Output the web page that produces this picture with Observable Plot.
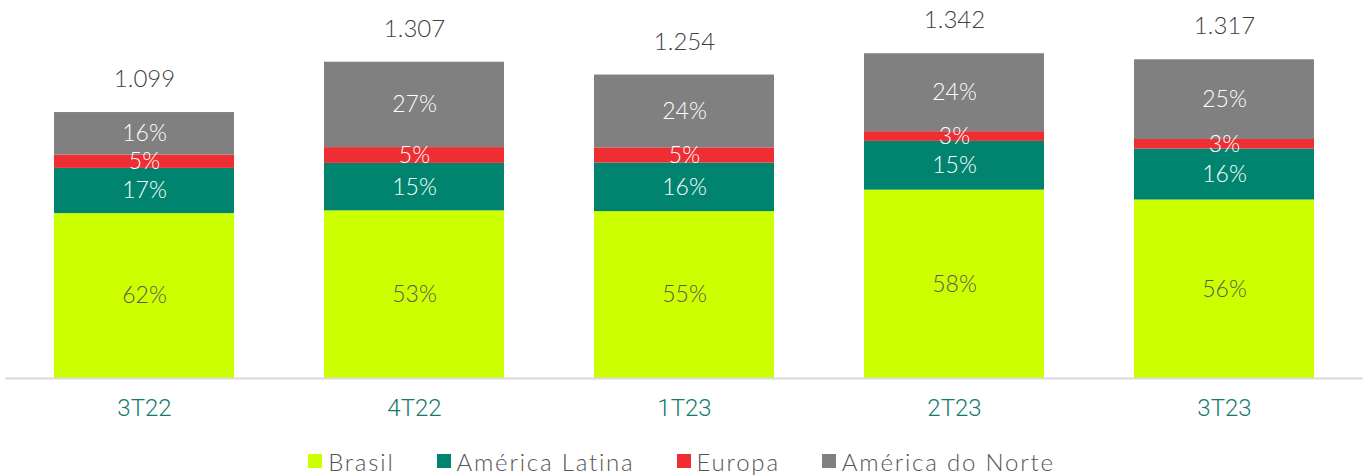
<!DOCTYPE html>
<html>
<head>
<meta charset="utf-8">
<script src="https://cdn.jsdelivr.net/npm/d3@7"></script>
<script src="https://cdn.jsdelivr.net/npm/@observablehq/plot@0.6"></script>
<style>
  body { margin: 0; background: #fff; font-family: Lato, "Open Sans", sans-serif; }
  #legend { display: flex; justify-content: center; align-items: center; gap: 42px;
    font-family: Lato, sans-serif; font-weight: 300; font-size: 24px; color: #555555;
    letter-spacing: 1.8px; height: 30px; margin-top: 6px; padding-left: 0px; }
  #legend .item { display: flex; align-items: center; gap: 6px; }
  #legend .sw { width: 14px; height: 14px; display: inline-block; }
</style>
</head>
<body>
<div id="chart"></div>
<div id="legend"></div>
<script>
const periods = ["3T22", "4T22", "1T23", "2T23", "3T23"];
const totals = [1099, 1307, 1254, 1342, 1317];
const regions = ["Brasil", "América Latina", "Europa", "América do Norte"];
const colors = ["#CCFF00", "#00846F", "#EE2E33", "#808080"];
const brasil = [62, 53, 55, 58, 56];
const latam = [17, 15, 16, 15, 16];
const europa = [5, 5, 5, 3, 3];
const norte = [16, 27, 24, 24, 25];

const shares = [brasil, latam, europa, norte];
const rows = [];
periods.forEach((p, i) => {
  regions.forEach((r, j) => {
    rows.push({period: p, region: r, pct: shares[j][i], value: totals[i] * shares[j][i] / 100});
  });
});
const totalRows = periods.map((p, i) => ({period: p, total: totals[i]}));
const fmt = d3.formatLocale({decimal: ",", thousands: ".", grouping: [3], currency: ["", ""]}).format(",");

const chart = Plot.plot({
  width: 1363,
  height: 440,
  marginLeft: 5,
  marginRight: 0,
  marginTop: 0,
  marginBottom: 62,
  style: {fontFamily: "Lato, sans-serif", background: "#fff"},
  x: {domain: periods, paddingInner: 0.335, paddingOuter: 0.18, label: null, axis: null},
  y: {domain: [0, 1562], axis: null},
  color: {domain: regions, range: colors},
  marks: [
    Plot.barY(rows, {x: "period", y: "value", fill: "region", order: regions}),
    Plot.ruleY([0], {stroke: "#D9D9D9", strokeWidth: 2}),
    Plot.text(rows, Plot.stackY({x: "period", y: "value", z: "region", order: regions,
      text: d => d.pct + "%",
      fill: d => d.region === "Brasil" ? "#595959" : "#FFFFFF",
      fontSize: 23, fontWeight: 300, lineAnchor: "middle"})),
    Plot.text(totalRows, {x: "period", y: "total", text: d => fmt(d.total), dy: -33,
      fontSize: 24, fontWeight: 300, fill: "#404040", lineAnchor: "middle"}),
    Plot.text(periods, {x: d => d, text: d => d, frameAnchor: "bottom", lineAnchor: "middle", dy: 30,
      fontSize: 24, fill: "#137A6C", fontFamily: "Roboto, sans-serif", fontWeight: 300})
  ]
});
document.getElementById("chart").appendChild(chart);

const legend = document.getElementById("legend");
regions.forEach((r, j) => {
  const it = document.createElement("div");
  it.className = "item";
  const sw = document.createElement("span");
  sw.className = "sw";
  sw.style.background = colors[j];
  const t = document.createElement("span");
  t.textContent = r;
  it.appendChild(sw);
  it.appendChild(t);
  legend.appendChild(it);
});
</script>
</body>
</html>
